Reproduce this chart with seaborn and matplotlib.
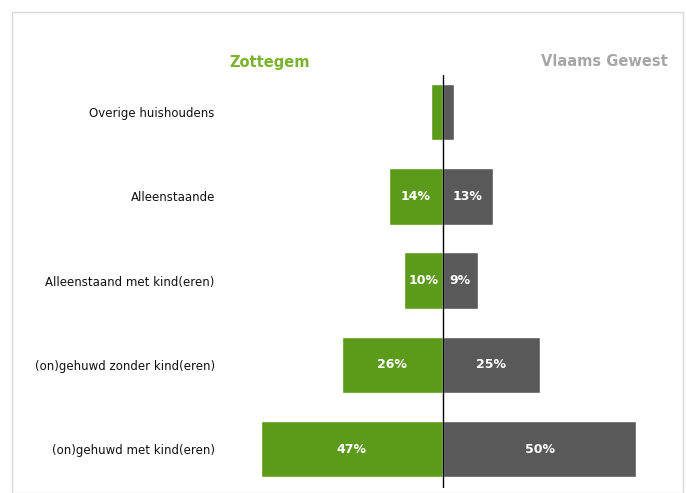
import matplotlib
matplotlib.use("Agg")
import matplotlib.pyplot as plt
import seaborn as sns
import pandas as pd
from matplotlib.patches import Rectangle

categories = ["Overige huishoudens", "Alleenstaande", "Alleenstaand met kind(eren)",
              "(on)gehuwd zonder kind(eren)", "(on)gehuwd met kind(eren)"]
zottegem = [3, 14, 10, 26, 47]
vlaams = [3, 13, 9, 25, 50]
show_label = [False, True, True, True, True]

green = "#5b9a1b"
grey = "#595959"

sns.set_style("white")
plt.rcParams['font.family'] = ['DejaVu Sans']

fig = plt.figure(figsize=(6.86, 4.93), dpi=100)
ax = fig.add_axes([0.335, 0.0101, 0.627, 0.838])

df_left = pd.DataFrame({"cat": categories, "val": [-v for v in zottegem]})
df_right = pd.DataFrame({"cat": categories, "val": vlaams})
sns.barplot(data=df_left, x="val", y="cat", color=green, saturation=1, width=0.67, ax=ax)
sns.barplot(data=df_right, x="val", y="cat", color=grey, saturation=1, width=0.67, ax=ax)

for i in range(len(categories)):
    if show_label[i]:
        ax.text(-zottegem[i] / 2, i, f"{zottegem[i]}%", ha="center", va="center",
                color="white", fontsize=9, fontweight="bold")
        ax.text(vlaams[i] / 2, i, f"{vlaams[i]}%", ha="center", va="center",
                color="white", fontsize=9, fontweight="bold")

ax.axvline(0, color="black", lw=1)
ax.set_xlim(-55.0, 56.1)
ax.set_ylim(4.46, -0.44)
ax.set_xlabel("")
ax.set_ylabel("")
ax.set_xticks([])
ax.tick_params(axis="y", length=0, pad=10.8, labelsize=8.5, labelcolor="#111111")
sns.despine(ax=ax, left=True, bottom=True)

fig.text(270 / 686, 1 - 62 / 493, "Zottegem", color="#7ab32e", fontsize=10.5,
         fontweight="bold", ha="center", va="center")
fig.text(668 / 686, 1 - 62 / 493, "Vlaams Gewest", color="#a6a6a6", fontsize=10.5,
         fontweight="bold", ha="right", va="center")

fig.patches.append(Rectangle((12 / 686, 0.0), 671 / 686, 1 - 12 / 493, transform=fig.transFigure,
                             fill=False, edgecolor="#d9d9d9", lw=1))

fig.savefig("out.png", dpi=100)
